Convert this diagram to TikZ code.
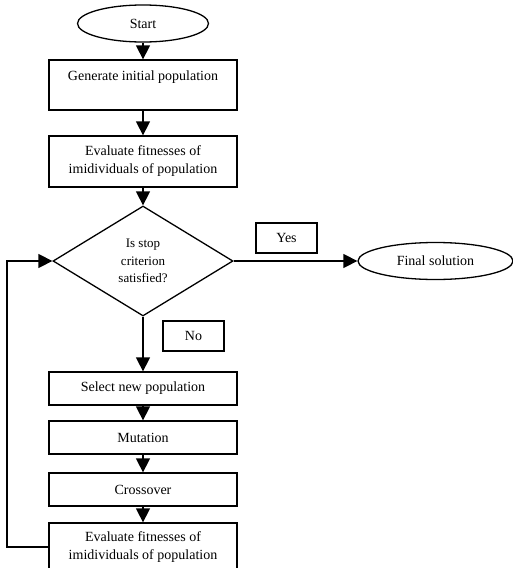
\documentclass[tikz,border=0pt]{standalone}
\usepackage{fontspec}
\setmainfont{Liberation Serif}
\usetikzlibrary{shapes.geometric,arrows.meta}
\begin{document}
\begin{tikzpicture}[x=1pt,y=-1pt,
  box/.style={draw,line width=1.3pt,rectangle,minimum width=188pt,inner sep=0pt,align=center,font=\fontsize{14}{18}\selectfont},
  lbl/.style={draw,line width=1.3pt,rectangle,minimum width=61pt,minimum height=30pt,inner sep=0pt,font=\fontsize{14}{18}\selectfont},
  term/.style={draw,line width=1.3pt,ellipse,inner sep=0pt,minimum height=37pt,font=\fontsize{14}{18}\selectfont},
  arr/.style={line width=1.4pt,-{Triangle[width=14pt,length=14pt]}}]
\useasboundingbox (0,0) rectangle (512,568);
\node[term,minimum width=131pt] (start) at (143,23.5) {Start};
\node[box,minimum height=50pt] (gen) at (143,85) {Generate initial population\\\mbox{}};
\node[box,minimum height=51pt] (ev1) at (143,161.5) {Evaluate fitnesses of\\imidividuals of population};
\node[diamond,draw,line width=1.3pt,minimum width=180pt,minimum height=110pt,inner sep=0pt,align=center,font=\fontsize{13}{17.5}\selectfont] (dec) at (143,261) {Is stop\\criterion\\satisfied?};
\node[lbl] (yes) at (286.5,238) {Yes};
\node[term,minimum width=155pt] (fin) at (435.5,261) {Final solution};
\node[lbl] (no) at (193.5,336) {No};
\node[box,minimum height=33pt] (sel) at (143,388.5) {Select new population};
\node[box,minimum height=33pt] (mut) at (143,437.5) {Mutation};
\node[box,minimum height=33pt] (cro) at (143,489.5) {Crossover};
\node[box,minimum height=48pt] (ev2) at (143,547) {Evaluate fitnesses of\\imidividuals of population};
\coordinate (lp) at (7,547);
\draw[arr] (start) -- (gen);
\draw[arr] (gen) -- (ev1);
\draw[arr] (ev1) -- (dec);
\draw[arr] (dec.east) -- (fin.west);
\draw[arr] (dec.south) -- (sel.north);
\draw[arr] (sel) -- (mut);
\draw[arr] (mut) -- (cro);
\draw[arr] (cro) -- (ev2);
\draw[arr] (ev2.west) -- (lp) |- (dec.west);
\end{tikzpicture}
\end{document}
